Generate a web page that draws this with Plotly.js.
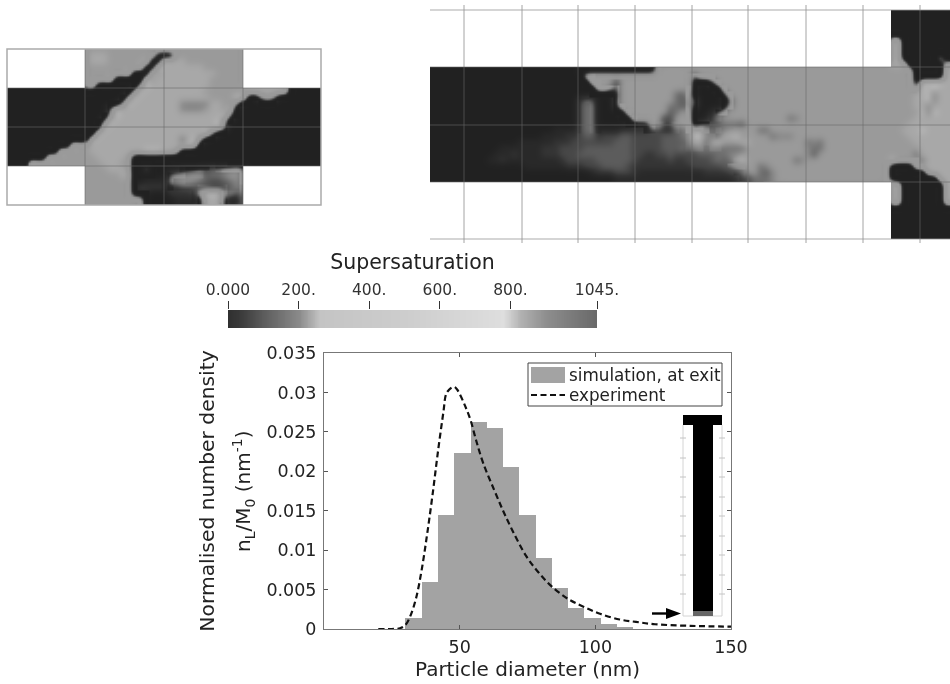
<!DOCTYPE html>
<html><head><meta charset="utf-8">
<script src="https://cdn.plot.ly/plotly-3.0.1.min.js"></script>
<style>html,body{margin:0;padding:0;background:#fff}#chart{width:950px;height:684px;filter:blur(0.45px)}</style>
</head><body><div id="chart"></div>
<script>
// ---- Histogram and experimental curve ----
const binCentres = [33,39,45,51,57,63,69,75,81,87,93,99,105,111];
const simDensity = [0.00135,0.0059,0.0145,0.0223,0.0263,0.0255,0.0205,0.0145,0.0090,0.0052,0.0027,0.00135,0.0006,0.0002];
const expDiameter = [20,25,28,30,32,34,36,38,40,42,44,45,46,47,48,49,50,52,54,56,58.7,62.7,66,69.3,74.6,79,83.9,90,95.8,102,109,115,122,135,150];
const expDensity = [0,0,0.0001,0.0005,0.0018,0.0040,0.0075,0.0120,0.0170,0.0225,0.0275,0.0298,0.0303,0.0306,0.0307,0.0304,0.0298,0.0283,0.0265,0.0240,0.0210,0.01765,0.0150,0.0126,0.0092,0.0072,0.0054,0.0038,0.0028,0.0019,0.0012,0.0009,0.0006,0.0004,0.0003];
const yTicks = [0,0.005,0.01,0.015,0.02,0.025,0.03,0.035];
const yTickText = ['0','0.005','0.01','0.015','0.02','0.025','0.03','0.035'];
const xTicks = [50,100,150];

// ---- Colour bar ----
const barTickVals = [0,200,400,600,800,1045];
const barTickText = ['0.000','200.','400.','600.','800.','1045.'];
const barStops = [0,30,100,200,260,500,780,830,900,1045];
const barGreys = ['#303030','#383838','#5c5c5c','#8a8a8a','#c4c4c4','#cdcdcd','#dedede','#b0b0b0','#8e8e8e','#686868'];

// ---- Field panels: grey levels 0-9, d{n} = d repeated n times ----
const fieldGreys = ['#212121','#292929','#353535','#484848','#5c5c5c','#707070','#868686','#9a9a9a','#a8a8a8','#bcbcbc'];
const crossWest = Array(16).fill('0{13}').concat(['0{11}97','0{9}9777','0{7}97{5}','0{4}97{8}','0{4}97{8}','0{4}97{8}','0{4}97{8}','0{4}97{8}','0{4}97{8}','0{4}97{8}']);
const crossCentre = [
'7{26}','788877777777100'+'7{11}','78887777779019888777777777','77777777790198888888777777',
'77777779000978888888887777','777790000097888888888'+'77777','790000000598888888888'+'77777','0{8}598888888888'+'777777',
'0{7}5988888888888877779','000000498888888866666'+'88775','00004988888888886666'+'7887'+'90','00005988888888888888888'+'940',
'00049888888888888888889'+'500','00098888888888888888889'+'5000'.slice(0,4),'0098888888888888888'+'89'+'40000','098888888888888858'+'95000000',
'788888888888888889'+'8'+'0{7}','7888888888'+'999'+'88'+'7'+'0{10}','77888887'+'0{18}','77788877'+'0{18}',
'77778887'+'00600011222'+'3344556','77777788'+'000000'+'4556'+'77'+'455677','7{8}'+'001111'+'56776'+'5433456','7{8}'+'032222'+'223333'+'333346',
'7{8}'+'001000'+'22223'+'6'+'999'+'463','7{8}'+'770'+'000011112'+'888'+'311'];
const crossEast = ['70{12}','70{12}','70{12}','70{12}','70{12}','70{12}','78{7}0{5}','78{7}0{5}','9005750{7}',
'0{13}','0{13}','0{13}','0{13}','0{13}','0{13}','0{13}','0{13}','0{13}','0{13}','0{13}',
'50{12}','50{12}','50{12}','50{12}','50{12}','50{12}'];
const channelRows = [
'0{25}1{13}7{39}','0{26}7{18}37{32}','0{27}7{4}37{12}10037{29}','0{28}77537{12}100017{28}',
'0{31}27{9}5470000037{27}','0{25}3440003'+'7{9}'+'5454000004'+'7{26}','0{25}3550003'+'7{8}'+'55453000025'+'7{26}','0{25}35500001'+'7{7}'+'4577000245'+'7{27}',
'0{25}355000001'+'7{5}'+'3377700135'+'7{11}'+'56'+'7{15}','0{25}355000000111773377803334555'+'4'+'7{24}','0{21}1111355111122222'+'3322456885556'+'7{5}'+'55'+'7{20}','0{19}111122344233344333'+'334445699655889'+'777775666'+'7{16}',
'0{15}111111222'+'3333333444333'+'334444588489'+'77788'+'7{7}'+'77565'+'7{11}','0{12}11111112223'+'3334444444'+'4333'+'3344454565655555'+'7{10}'+'655'+'7{11}','0{11}11121111222333'+'4{8}'+'43322334333344455667'+'7{9}'+'764'+'7{12}','0{10}112111111111233'+'33344444'+'43222223'+'223333454589'+'7'+'7{7}'+'56'+'7{14}',
'0{16}111111122'+'2333444'+'43222222222233333'+'44567756'+'7{20}','0{27}1222333'+'211111111111222'+'2334775'+'46'+'7{19}','0{31}1{15}111112'+'3355567'+'7{18}'];
const junctionRows = ['0{10}','0{10}','0{10}','0{10}','0{10}','880{8}','880{8}','880{8}','880{6}7','8880{6}7','77770{5}8','77770{5}8',
'7777099998','7777598988','7777889688','7777889688','7777886888','7777796988','7777888888','7778888888','7788898888','7778888888','7777888888','7777788888','7777588888','9777758888','0000888888','0000008888','0{8}88',
'880{7}8','880{7}8','880{7}8','880{7}8','0{10}','0{10}','0{10}','0{10}','0{10}','0{10}'];

// ---- Pixel frames of the picture ----
const W=950,H=684;
const fx=p=>p/W, fy=p=>1-p/H;
const plotBox={l:324,r:731,t:353,b:629};
const crossBox={l:7,r:321,t:49,b:205};
const pipeBox={l:430,r:950,t:10,b:239};
const barBox={l:228,r:597,t:310,b:328};
const crossGridX=[85,164,243], crossGridY=[88,127,166];
const pipeGridX=[464,522,578,635,692,748,806,863,920], pipeGridY=[67,125,182];
const insetTickY=[438,458,477,497,516,536,555,575,594];

const expand=s=>s.replace(/(\d)\{(\d+)\}/g,(m,d,n)=>d.repeat(+n));
const digits=(s,n)=>{const e=expand(s).padEnd(n,'7').slice(0,n);return e.split('').map(Number);};
const crossZ=crossCentre.map((c,i)=>digits(expand(crossWest[i]).padEnd(13,'0').slice(0,13)+expand(c).padEnd(26,'7').slice(0,26)+expand(crossEast[i]).padEnd(13,'0').slice(0,13),52));
crossZ.push(crossZ[crossZ.length-1].slice());
crossZ.forEach(r=>r.push(r[r.length-1]));
const pipeZ=junctionRows.map((e,i)=>{
  const k=i<10?(i===9?0:-1):(i>28?(i===29?18:-1):i-10);
  const west=k<0?'0'.repeat(77):expand(channelRows[k]).padEnd(77,'7').slice(0,77);
  return digits(west+expand(e).padEnd(10,'0').slice(0,10),87);
});
pipeZ.forEach(r=>r.push(r[r.length-1]));
pipeZ.push(pipeZ[pipeZ.length-1].slice());

// Resample a coarse reading of a panel: smooth the stair steps, keep fronts crisp.
const SUB=3, SIG=0.62;
const sstep=t=>t*t*(3-2*t);
function refine(z){
  const R=z.length,C=z[0].length,out=[];
  for(let m=0;m<=(R-1)*SUB;m++){
    const row=[],yy=m/SUB;
    for(let n=0;n<=(C-1)*SUB;n++){
      const xx=n/SUB; let s=0,w=0,lo=9,hi=0;
      const i0=Math.round(yy),j0=Math.round(xx);
      for(let i=Math.max(0,i0-2);i<=Math.min(R-1,i0+2);i++)for(let j=Math.max(0,j0-2);j<=Math.min(C-1,j0+2);j++){
        const d2=(i-yy)*(i-yy)+(j-xx)*(j-xx), g=Math.exp(-d2/(2*SIG*SIG));
        s+=g*z[i][j]; w+=g;
        if(Math.abs(i-yy)<=1.5&&Math.abs(j-xx)<=1.5){lo=Math.min(lo,z[i][j]);hi=Math.max(hi,z[i][j]);}
      }
      let v=s/w;
      if(v<7){
        const k=Math.min(1,Math.max(0,(hi-lo-4.5)/2));
        const crisp=7*sstep(sstep(sstep(v/7)));
        v=(1-k)*v+k*crisp;
      }
      row.push(v);
    }
    out.push(row);
  }
  return out;
}
const crossFine=refine(crossZ), pipeFine=refine(pipeZ);

const greyScale=fieldGreys.map((c,i)=>[i/9,c]);
const barScale=barStops.map((s,i)=>[s/1045,barGreys[i]]);
const barZ=[];for(let v=0;v<=1045;v+=5)barZ.push(v);

const traces=[
 {type:'heatmap',z:crossFine,x0:0,dx:1/SUB,y0:0,dy:1/SUB,xaxis:'x2',yaxis:'y2',zmin:0,zmax:9,colorscale:greyScale,showscale:false,zsmooth:'best',hoverinfo:'skip'},
 {type:'heatmap',z:pipeFine,x0:0,dx:1/SUB,y0:0,dy:1/SUB,xaxis:'x3',yaxis:'y3',zmin:0,zmax:9,colorscale:greyScale,showscale:false,zsmooth:'best',hoverinfo:'skip'},
 {type:'heatmap',z:[barZ,barZ],x0:0,dx:5,y0:0,dy:1,xaxis:'x4',yaxis:'y4',zmin:0,zmax:1045,colorscale:barScale,showscale:false,zsmooth:'best',hoverinfo:'skip'},
 {type:'bar',name:'simulation, at exit',x:binCentres,y:simDensity,width:6,marker:{color:'#a3a3a3',line:{width:0}},showlegend:false},
 {type:'scatter',mode:'lines',name:'experiment',x:expDiameter,y:expDensity,line:{color:'#111',width:2.2,dash:'6px,3.5px',shape:'spline'},showlegend:false}
];

const shapes=[];
const rect=(x0,y0,x1,y1,o)=>shapes.push(Object.assign({type:'rect',xref:'paper',yref:'paper',x0:fx(x0),x1:fx(x1),y0:fy(y1),y1:fy(y0),line:{width:0}},o||{}));
const line=(x0,y0,x1,y1,c,w)=>shapes.push({type:'line',xref:'paper',yref:'paper',x0:fx(x0),x1:fx(x1),y0:fy(y0),y1:fy(y1),line:{color:c,width:w}});
// white corners of the two panels
rect(crossBox.l,crossBox.t,crossGridX[0],crossGridY[0],{fillcolor:'#fff'});
rect(crossGridX[2],crossBox.t,crossBox.r,crossGridY[0],{fillcolor:'#fff'});
rect(crossBox.l,crossGridY[2],crossGridX[0],crossBox.b,{fillcolor:'#fff'});
rect(crossGridX[2],crossGridY[2],crossBox.r,crossBox.b,{fillcolor:'#fff'});
rect(pipeBox.l,pipeBox.t-1,891,pipeGridY[0],{fillcolor:'#fff'});
rect(pipeBox.l,pipeGridY[2],891,pipeBox.b+1,{fillcolor:'#fff'});
// panel grids
const gc='rgba(105,105,105,0.6)';
crossGridX.forEach(x=>line(x,crossBox.t,x,crossBox.b,gc,1));
crossGridY.forEach(y=>line(crossBox.l,y,crossBox.r,y,gc,1));
rect(crossBox.l,crossBox.t,crossBox.r,crossBox.b,{line:{color:'#ababab',width:1.5}});
pipeGridX.forEach(x=>line(x,5,x,243,gc,1));
pipeGridY.forEach(y=>line(pipeBox.l,y,pipeBox.r,y,gc,1));
line(pipeBox.l,pipeBox.t,pipeBox.r,pipeBox.t,'rgba(150,150,150,0.8)',1.2);
line(pipeBox.l,pipeBox.b,pipeBox.r,pipeBox.b,'rgba(150,150,150,0.8)',1.2);
// legend frame
rect(528,363,722,406,{fillcolor:'#fff',line:{color:'#444',width:1}});
rect(531,367,565,383,{fillcolor:'#a3a3a3'});
line(531,395,565,395,'#111',2.2); shapes[shapes.length-1].line.dash='6px,3.5px';
// inset: channel sketch
[683,722].forEach(x=>{line(x,425,x,616,'#d4d4d4',1);insetTickY.forEach(y=>line(x-3,y,x+3,y,'#c4c4c4',1));});
line(683,616,722,616,'#d4d4d4',1);
rect(683,415,722,425,{fillcolor:'#000'});
rect(693,425,713,611,{fillcolor:'#000'});
rect(693,611,713,616,{fillcolor:'#666'});
// arrow pointing at the exit patch
line(652,613.5,667,613.5,'#000',2.4);
shapes.push({type:'path',xref:'paper',yref:'paper',fillcolor:'#000',line:{width:0},
  path:`M ${fx(666)} ${fy(608)} L ${fx(681)} ${fy(613.5)} L ${fx(666)} ${fy(619)} Z`});

const legendText=(t,y)=>({text:t,xref:'paper',yref:'paper',x:fx(567),y:fy(y),xanchor:'left',yanchor:'middle',showarrow:false,font:{size:16.8,color:'#222'}});
const annotations=[legendText('simulation, at exit',375),legendText('experiment',395),
 {text:'n<sub>L</sub>/M<sub>0</sub> (nm<sup>-1</sup>)',xref:'paper',yref:'paper',x:fx(243),y:fy(491),textangle:-90,xanchor:'center',yanchor:'middle',showarrow:false,font:{size:20,color:'#222'}}];

const layout={
 width:W,height:H,paper_bgcolor:'#fff',plot_bgcolor:'rgba(0,0,0,0)',showlegend:false,
 margin:{l:0,r:0,t:0,b:0,autoexpand:false},
 font:{family:'DejaVu Sans, sans-serif',color:'#222',size:16},
 bargap:0,
 xaxis:{domain:[fx(plotBox.l),fx(plotBox.r)],range:[0,150],tickvals:xTicks,ticks:'inside',ticklen:4,tickcolor:'#555',mirror:'allticks',showline:true,linecolor:'#777',linewidth:1,showgrid:false,zeroline:false,tickfont:{size:17.5},ticklabelstandoff:2,
   title:{text:'Particle diameter (nm)',font:{size:20},standoff:5}},
 yaxis:{domain:[fy(plotBox.b),fy(plotBox.t)],range:[0,0.035],tickvals:yTicks,ticktext:yTickText,ticks:'inside',ticklen:4,tickcolor:'#555',mirror:'allticks',showline:true,linecolor:'#777',linewidth:1,showgrid:false,zeroline:false,tickfont:{size:17.5},ticklabelstandoff:3,
   title:{text:'Normalised number density',font:{size:20.3},standoff:46}},
 xaxis2:{domain:[fx(crossBox.l),fx(crossBox.r)],range:[0,52],visible:false,anchor:'y2'},
 yaxis2:{domain:[fy(crossBox.b),fy(crossBox.t)],range:[26,0],visible:false,anchor:'x2'},
 xaxis3:{domain:[fx(pipeBox.l),fx(pipeBox.r)],range:[0,(pipeBox.r-pipeBox.l)/6],visible:false,anchor:'y3'},
 yaxis3:{domain:[fy(pipeBox.b),fy(pipeBox.t)],range:[(pipeBox.b-pipeBox.t)/6,0],visible:false,anchor:'x3'},
 xaxis4:{domain:[fx(barBox.l),fx(barBox.r)],range:[0,1045],side:'top',anchor:'y4',tickvals:barTickVals,ticktext:barTickText,ticks:'outside',ticklen:8,tickcolor:'#333',showline:false,showgrid:false,zeroline:false,tickfont:{size:15.5,color:'#333'},
   title:{text:'Supersaturation',font:{size:20.5,color:'#222'},standoff:5}},
 yaxis4:{domain:[fy(barBox.b),fy(barBox.t)],range:[0,1],visible:false,anchor:'x4'},
 shapes,annotations
};
Plotly.newPlot('chart',traces,layout,{displayModeBar:false,staticPlot:true});
</script></body></html>
